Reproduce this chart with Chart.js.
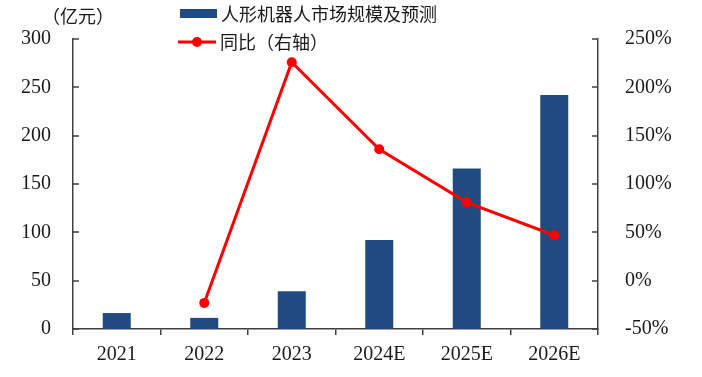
<!DOCTYPE html>
<html><head><meta charset="utf-8">
<script src="https://cdn.jsdelivr.net/npm/chart.js@4"></script>
<style>html,body{margin:0;padding:0;background:#fff;}#wrap{width:702px;height:377px;position:relative;}</style>
</head><body><div id="wrap"><canvas id="c" width="702" height="377"></canvas></div>
<script>
const categories = ['2021','2022','2023','2024E','2025E','2026E'];
const marketSize = [16.5, 11.5, 39, 92, 166, 242];
const yoy = [null, -23, 226, 136, 81, 47];
const leftTicks = [0,50,100,150,200,250,300];
const rightTicks = [-50,0,50,100,150,200,250];
const barLabel = '人形机器人市场规模及预测';
const lineLabel = '同比（右轴）';
const unitLabel = '（亿元）';

const BAR = '#204a80', RED = '#ff0000', AX = '#404040';
const SERIF = '"Liberation Serif","DejaVu Serif",serif';
const CJK = '"Noto Sans CJK SC","Noto Sans CJK JP",sans-serif';

const extras = {
  id:'extras',
  afterDraw(chart){
    const ctx = chart.ctx, y = chart.scales.y, y1 = chart.scales.y1;
    ctx.save();
    ctx.strokeStyle = AX; ctx.lineWidth = 1.5;
    leftTicks.forEach(v=>{const p=Math.round(y.getPixelForValue(v));ctx.beginPath();ctx.moveTo(y.right,p);ctx.lineTo(y.right+6,p);ctx.stroke();});
    rightTicks.forEach(v=>{const p=Math.round(y1.getPixelForValue(v));ctx.beginPath();ctx.moveTo(y1.left,p);ctx.lineTo(y1.left-6,p);ctx.stroke();});
    // legend
    ctx.fillStyle = BAR; ctx.fillRect(180,9,37,9);
    ctx.strokeStyle = RED; ctx.lineWidth = 3; ctx.beginPath(); ctx.moveTo(178,42); ctx.lineTo(216,42); ctx.stroke();
    ctx.fillStyle = RED; ctx.beginPath(); ctx.arc(197,42,5,0,Math.PI*2); ctx.fill();
    ctx.fillStyle = '#1a1a1a'; ctx.font = '18px '+CJK; ctx.textBaseline='middle'; ctx.textAlign='left';
    ctx.fillText(barLabel, 221, 14);
    ctx.fillText(lineLabel, 220, 42);
    ctx.font = '18px '+CJK; ctx.fillText(unitLabel, 42, 16);
    ctx.restore();
  }
};

new Chart(document.getElementById('c'), {
  data:{
    labels: categories,
    datasets:[
      {type:'line', label:lineLabel, data:yoy, yAxisID:'y1', borderColor:RED, backgroundColor:RED, borderWidth:3, pointRadius:5, pointBackgroundColor:RED, pointBorderWidth:0, tension:0, order:0},
      {type:'bar', label:barLabel, data:marketSize, yAxisID:'y', backgroundColor:BAR, barPercentage:0.64, categoryPercentage:0.5, order:1}
    ]
  },
  options:{
    responsive:false, animation:false,
    layout:{padding:{top:39,left:0,right:0,bottom:2}},
    plugins:{legend:{display:false}, tooltip:{enabled:false}},
    scales:{
      x:{grid:{display:true, drawOnChartArea:false, offset:true, tickLength:6, color:AX, lineWidth:1.5},
         border:{display:true,color:AX,width:1.5},
         ticks:{color:'#1a1a1a', font:{family:SERIF,size:20}, padding:8}},
      y:{position:'left', min:0, max:300, grid:{display:false}, border:{display:true,color:AX,width:1.5},
         afterFit(s){s.width=73;},
         ticks:{stepSize:50, color:'#1a1a1a', font:{family:SERIF,size:20}, padding:14}},
      y1:{position:'right', min:-50, max:250, grid:{display:false}, border:{display:true,color:AX,width:1.5},
         afterFit(s){s.width=104;},
         ticks:{stepSize:50, color:'#1a1a1a', font:{family:SERIF,size:20}, padding:19, callback:v=>v+'%'}}
    }
  },
  plugins:[extras]
});
</script></body></html>
